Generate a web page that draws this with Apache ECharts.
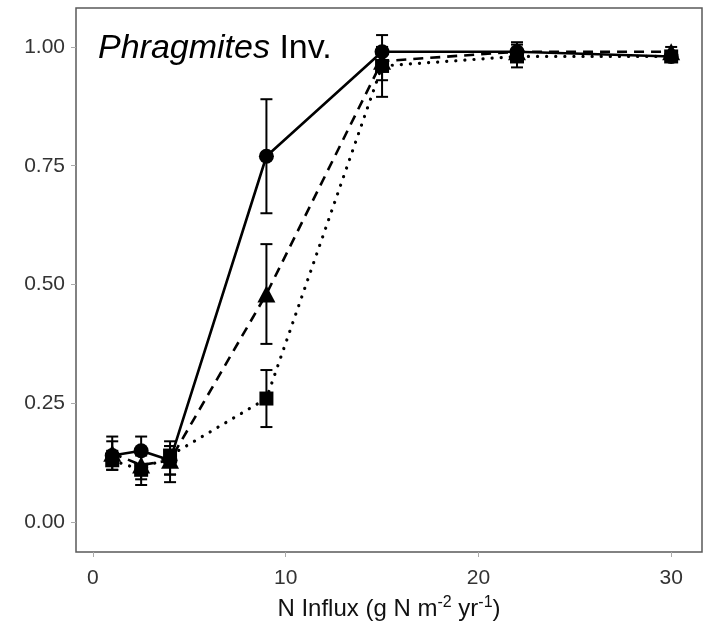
<!DOCTYPE html>
<html><head><meta charset="utf-8">
<script src="https://cdn.jsdelivr.net/npm/echarts@6/dist/echarts.min.js"></script>
<style>html,body{margin:0;padding:0;background:#fff}#c{width:709px;height:639px}</style>
</head><body><div id="c"></div>
<script>
var xVals = [1, 2.5, 4, 9, 15, 22, 30];
var circleY  = [0.14, 0.15, 0.13, 0.77, 0.99, 0.99, 0.98];
var circleLo = [0.11, 0.12, 0.10, 0.65, 0.955, 0.97, 0.97];
var circleHi = [0.17, 0.18, 0.16, 0.89, 1.025, 1.01, 0.99];
var triY  = [0.145, 0.12, 0.13, 0.48, 0.97, 0.99, 0.99];
var triLo = [0.12, 0.09, 0.10, 0.375, 0.93, 0.97, 0.98];
var triHi = [0.18, 0.15, 0.16, 0.585, 1.0, 1.005, 1.0];
var sqY  = [0.13, 0.11, 0.14, 0.26, 0.96, 0.98, 0.98];
var sqLo = [0.11, 0.078, 0.084, 0.20, 0.895, 0.957, 0.97];
var sqHi = [0.15, 0.14, 0.17, 0.32, 1.0, 0.99, 0.99];
var yTicks = [0, 0.25, 0.5, 0.75, 1.0];
var xTicks = [0, 10, 20, 30];

function pts(ys){ return xVals.map(function(x,i){return [x, ys[i]];}); }
function errData(lo, hi){ return xVals.map(function(x,i){return [x, lo[i], hi[i]];}); }
function errSeries(lo, hi){
  return {
    type:'custom', data: errData(lo,hi), z: 3,
    encode:{x:0, y:[1,2]},
    renderItem: function(params, api){
      var x = api.value(0);
      var p1 = api.coord([x, api.value(1)]);
      var p2 = api.coord([x, api.value(2)]);
      var w = 6;
      var st = {stroke:'#000', lineWidth:2};
      return {type:'group', children:[
        {type:'line', shape:{x1:p1[0],y1:p1[1],x2:p2[0],y2:p2[1]}, style:st},
        {type:'line', shape:{x1:p1[0]-w,y1:p1[1],x2:p1[0]+w,y2:p1[1]}, style:st},
        {type:'line', shape:{x1:p2[0]-w,y1:p2[1],x2:p2[0]+w,y2:p2[1]}, style:st}
      ]};
    }
  };
}
var chart = echarts.init(document.getElementById('c'), null, {renderer:'canvas'});
var axisLbl = {color:'#333', fontFamily:'Liberation Sans', fontSize:21};
chart.setOption({
  animation:false,
  grid:{left:76, right:7, top:8, bottom:87, show:true, borderColor:'#5a5a5a', borderWidth:1.5, backgroundColor:'#fff'},
  xAxis:{type:'value', min:-0.88, max:31.6,
    axisLine:{show:false, onZero:false}, splitLine:{show:false},
    axisTick:{show:true, length:5, lineStyle:{color:'#aaa'}, customValues:xTicks},
    axisLabel:Object.assign({margin:16, customValues:xTicks}, axisLbl),
    name:'{a|N Influx (g N m}{s|-2}{a| yr}{s|-1}{a|)}', nameLocation:'middle', nameGap:43,
    nameTextStyle:{rich:{
      a:{fontFamily:'Liberation Sans', fontSize:24, color:'#111'},
      s:{fontFamily:'Liberation Sans', fontSize:16, color:'#111', verticalAlign:'top', padding:[0,0,12,0]}
    }}
  },
  yAxis:{type:'value', min:-0.063, max:1.082,
    axisLine:{show:false, onZero:false}, splitLine:{show:false},
    axisTick:{show:true, length:5, lineStyle:{color:'#aaa'}, customValues:yTicks},
    axisLabel:Object.assign({margin:11, customValues:yTicks, formatter:function(v){return v.toFixed(2);}}, axisLbl)
  },
  graphic:[{type:'text', left:98, top:32, z:10, style:{
    text:'{i|Phragmites}{n| Inv.}',
    rich:{i:{fontStyle:'italic', fontFamily:'Liberation Sans', fontSize:34, fill:'#000'},
          n:{fontFamily:'Liberation Sans', fontSize:34, fill:'#000'}}
  }}],
  series:[
    errSeries(circleLo, circleHi),
    errSeries(triLo, triHi),
    errSeries(sqLo, sqHi),
    {type:'line', data:pts(sqY), symbol:'rect', symbolSize:14, z:4,
      itemStyle:{color:'#000'}, lineStyle:{color:'#000', width:3.2, type:[0.1,9], cap:'round'}},
    {type:'line', data:pts(circleY), symbol:'circle', symbolSize:15, z:4,
      itemStyle:{color:'#000'}, lineStyle:{color:'#000', width:2.6, type:'solid'}},
    {type:'line', data:pts(triY), symbol:'triangle', symbolSize:[18,17], z:4,
      itemStyle:{color:'#000'}, lineStyle:{color:'#000', width:2.6, type:[10,7]}}
  ]
});
</script></body></html>
